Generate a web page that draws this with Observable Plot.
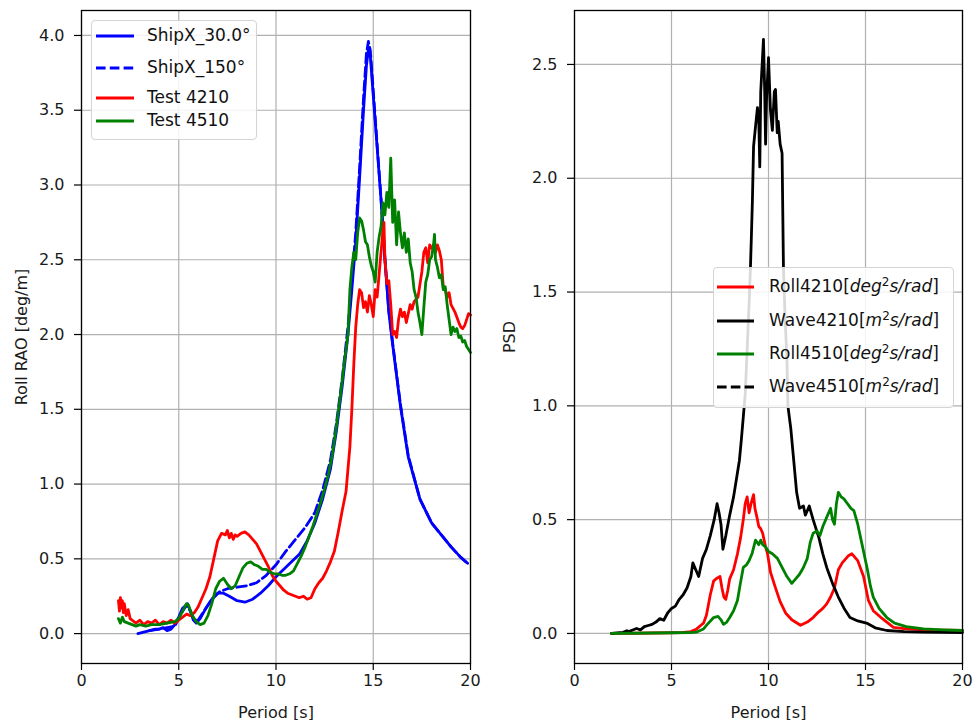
<!DOCTYPE html>
<html>
<head>
<meta charset="utf-8">
<script src="https://cdn.jsdelivr.net/npm/d3@7"></script>
<script src="https://cdn.jsdelivr.net/npm/@observablehq/plot@0.6"></script>
<style>
  html, body { margin: 0; padding: 0; background: #fff; }
  #wrap { position: relative; width: 975px; height: 720px; font-family: "DejaVu Sans", sans-serif; color: #111; }
  #left, #right { position: absolute; top: 0; }
  #left { left: 0; }
  #right { left: 490px; }
  .legend { position: absolute; background: rgba(255,255,255,0.85); border: 1px solid #d4d4d4; border-radius: 4px; font-size: 17px; }
  .row { position: absolute; white-space: nowrap; line-height: 1; }
  .row svg { position: absolute; top: 0; }
  .row span { position: absolute; top: -9px; }
  sup { font-size: 12px; font-style: normal; vertical-align: 0; position: relative; top: -6px; }
</style>
</head>
<body>
<div id="wrap">
  <div id="left"></div>
  <div id="right"></div>
</div>
<script>
// ---------- data ----------
const periodTicks = [0, 5, 10, 15, 20];
const raoTicks = [0, 0.5, 1, 1.5, 2, 2.5, 3, 3.5, 4];
const psdTicks = [0, 0.5, 1, 1.5, 2, 2.5];

// Left panel: Roll RAO [deg/m] vs Period [s]
const shipx30 = [[2.9,0.0],[3.2,0.01],[3.5,0.02],[3.8,0.03],[4.0,0.03],[4.2,0.04],[4.4,0.02],[4.6,0.03],[4.8,0.06],[5.0,0.11],[5.2,0.17],[5.45,0.2],[5.6,0.15],[5.75,0.09],[5.9,0.07],[6.1,0.1],[6.4,0.17],[6.7,0.23],[7.0,0.27],[7.3,0.27],[7.6,0.25],[8.0,0.22],[8.4,0.21],[8.8,0.23],[9.2,0.27],[9.6,0.32],[10.0,0.38],[10.4,0.43],[10.8,0.48],[11.2,0.53],[11.6,0.62],[12.0,0.74],[12.4,0.9],[12.8,1.1],[13.1,1.35],[13.4,1.65],[13.7,2.0],[13.9,2.3],[14.1,2.62],[14.3,3.05],[14.5,3.5],[14.65,3.8],[14.75,3.9],[14.85,3.86],[15.0,3.6],[15.2,3.25],[15.4,2.9],[15.6,2.5],[15.8,2.15],[16.0,1.93],[16.4,1.52],[16.8,1.18],[17.4,0.9],[18.0,0.74],[18.5,0.66],[19.0,0.58],[19.5,0.51],[19.85,0.47]];
const shipx150 = [[3.5,0.02],[4.0,0.03],[4.4,0.04],[4.8,0.05],[5.1,0.13],[5.4,0.19],[5.6,0.15],[5.8,0.09],[6.0,0.09],[6.3,0.15],[6.7,0.23],[7.1,0.28],[7.5,0.3],[8.0,0.31],[8.5,0.32],[9.0,0.34],[9.5,0.39],[10.0,0.46],[10.5,0.55],[11.0,0.63],[11.5,0.71],[12.0,0.81],[12.4,0.96],[12.8,1.16],[13.1,1.4],[13.4,1.7],[13.7,2.05],[13.9,2.36],[14.1,2.68],[14.3,3.12],[14.5,3.58],[14.65,3.88],[14.75,3.96],[14.85,3.9],[15.0,3.63],[15.2,3.27],[15.4,2.91],[15.6,2.51],[15.8,2.16],[16.0,1.94],[16.4,1.53],[16.8,1.19],[17.4,0.9],[18.0,0.74],[18.5,0.66],[19.0,0.58],[19.5,0.51],[19.85,0.47]];
const test4210 = [[1.9,0.22],[1.95,0.15],[2.0,0.24],[2.05,0.17],[2.1,0.22],[2.15,0.14],[2.2,0.2],[2.3,0.12],[2.4,0.16],[2.5,0.1],[2.6,0.09],[2.8,0.07],[3.0,0.09],[3.2,0.06],[3.4,0.08],[3.6,0.07],[3.8,0.09],[4.0,0.06],[4.2,0.08],[4.4,0.07],[4.6,0.09],[4.8,0.07],[5.0,0.09],[5.2,0.11],[5.4,0.13],[5.6,0.12],[5.8,0.14],[6.0,0.18],[6.2,0.24],[6.4,0.3],[6.6,0.38],[6.8,0.5],[7.0,0.62],[7.2,0.67],[7.4,0.66],[7.5,0.69],[7.6,0.64],[7.7,0.67],[7.8,0.63],[7.9,0.66],[8.0,0.65],[8.2,0.67],[8.4,0.68],[8.6,0.66],[8.8,0.63],[9.0,0.6],[9.2,0.55],[9.4,0.5],[9.6,0.45],[9.8,0.39],[10.0,0.35],[10.2,0.32],[10.4,0.29],[10.6,0.27],[10.8,0.26],[11.0,0.25],[11.2,0.24],[11.4,0.25],[11.6,0.23],[11.8,0.24],[12.0,0.3],[12.2,0.34],[12.4,0.37],[12.6,0.42],[12.8,0.48],[13.0,0.55],[13.2,0.68],[13.4,0.82],[13.6,0.95],[13.8,1.25],[13.9,1.5],[14.0,1.8],[14.1,2.05],[14.2,2.2],[14.3,2.3],[14.4,2.28],[14.5,2.18],[14.6,2.22],[14.7,2.15],[14.8,2.26],[14.9,2.2],[15.0,2.12],[15.1,2.3],[15.2,2.25],[15.3,2.4],[15.4,2.55],[15.5,2.7],[15.55,2.75],[15.6,2.5],[15.7,2.34],[15.8,2.36],[15.9,2.2],[16.0,2.0],[16.1,2.02],[16.2,1.98],[16.3,2.1],[16.4,2.17],[16.5,2.12],[16.6,2.15],[16.7,2.08],[16.8,2.14],[16.9,2.2],[17.0,2.17],[17.1,2.22],[17.3,2.25],[17.5,2.42],[17.6,2.55],[17.7,2.58],[17.8,2.48],[17.9,2.6],[18.0,2.58],[18.2,2.55],[18.3,2.6],[18.4,2.56],[18.5,2.5],[18.6,2.32],[18.7,2.3],[18.8,2.25],[18.9,2.28],[19.0,2.2],[19.2,2.15],[19.4,2.08],[19.5,2.05],[19.6,2.04],[19.7,2.06],[19.8,2.1],[19.9,2.14],[20.0,2.13]];
const test4510 = [[1.9,0.1],[2.0,0.07],[2.1,0.11],[2.2,0.08],[2.4,0.07],[2.6,0.06],[2.8,0.05],[3.0,0.06],[3.3,0.05],[3.6,0.06],[4.0,0.06],[4.4,0.07],[4.8,0.08],[5.0,0.1],[5.2,0.15],[5.4,0.2],[5.5,0.19],[5.7,0.12],[5.9,0.08],[6.1,0.06],[6.3,0.07],[6.5,0.12],[6.7,0.2],[6.9,0.3],[7.1,0.35],[7.3,0.37],[7.5,0.33],[7.7,0.3],[7.9,0.32],[8.1,0.38],[8.3,0.44],[8.5,0.47],[8.7,0.48],[8.9,0.46],[9.1,0.45],[9.3,0.43],[9.5,0.43],[9.7,0.41],[9.9,0.4],[10.1,0.4],[10.3,0.39],[10.5,0.39],[10.7,0.4],[10.9,0.42],[11.1,0.47],[11.3,0.52],[11.5,0.58],[11.7,0.65],[11.9,0.72],[12.1,0.8],[12.3,0.88],[12.5,0.97],[12.7,1.07],[12.9,1.2],[13.1,1.38],[13.3,1.58],[13.5,1.8],[13.7,2.0],[13.8,2.3],[13.9,2.45],[14.0,2.55],[14.1,2.5],[14.2,2.68],[14.3,2.78],[14.4,2.76],[14.5,2.7],[14.6,2.62],[14.7,2.6],[14.8,2.52],[14.9,2.46],[15.0,2.42],[15.1,2.35],[15.2,2.55],[15.3,2.65],[15.4,2.72],[15.5,2.88],[15.6,2.8],[15.7,2.95],[15.8,2.85],[15.9,3.18],[16.0,2.75],[16.1,2.9],[16.2,2.6],[16.3,2.82],[16.4,2.68],[16.5,2.58],[16.6,2.68],[16.7,2.55],[16.8,2.64],[16.9,2.48],[17.0,2.42],[17.1,2.3],[17.2,2.25],[17.3,2.15],[17.4,2.08],[17.5,2.0],[17.6,2.18],[17.7,2.35],[17.8,2.4],[17.9,2.5],[18.0,2.52],[18.1,2.6],[18.15,2.67],[18.2,2.5],[18.3,2.45],[18.4,2.38],[18.5,2.4],[18.6,2.3],[18.7,2.32],[18.8,2.2],[18.9,2.1],[19.0,2.0],[19.1,2.05],[19.2,2.02],[19.3,2.04],[19.4,1.98],[19.5,1.99],[19.6,1.95],[19.7,1.96],[19.8,1.92],[19.9,1.9],[20.0,1.88]];

// Right panel: PSD vs Period [s]
const roll4210 = [[1.9,0],[3,0.001],[4,0.002],[5,0.003],[5.5,0.004],[6.0,0.008],[6.3,0.02],[6.5,0.035],[6.65,0.045],[6.8,0.08],[7.0,0.17],[7.17,0.23],[7.3,0.24],[7.5,0.25],[7.6,0.2],[7.7,0.16],[7.8,0.15],[7.9,0.19],[8.0,0.24],[8.2,0.28],[8.4,0.35],[8.56,0.42],[8.7,0.5],[8.8,0.57],[8.9,0.6],[9.0,0.53],[9.1,0.57],[9.23,0.61],[9.3,0.55],[9.43,0.5],[9.5,0.47],[9.6,0.46],[9.7,0.44],[9.85,0.38],[9.95,0.35],[10.1,0.27],[10.36,0.2],[10.6,0.14],[10.88,0.09],[11.2,0.06],[11.65,0.036],[12.0,0.05],[12.3,0.07],[12.5,0.088],[12.8,0.11],[13.0,0.13],[13.2,0.16],[13.4,0.2],[13.6,0.28],[13.8,0.31],[14.1,0.34],[14.3,0.35],[14.6,0.32],[14.9,0.25],[15.15,0.145],[15.4,0.1],[15.8,0.07],[16.1,0.05],[16.44,0.027],[17.1,0.02],[18,0.016],[19,0.014],[20,0.013]];
const wave4210 = [[1.9,0.0],[2.2,0.003],[2.5,0.005],[2.7,0.012],[2.8,0.008],[3.0,0.015],[3.2,0.022],[3.4,0.016],[3.6,0.03],[3.8,0.035],[4.0,0.04],[4.2,0.05],[4.4,0.065],[4.6,0.058],[4.8,0.09],[5.0,0.11],[5.2,0.12],[5.4,0.15],[5.6,0.17],[5.8,0.2],[6.0,0.25],[6.1,0.31],[6.25,0.28],[6.4,0.25],[6.6,0.33],[6.8,0.37],[7.0,0.43],[7.2,0.5],[7.35,0.57],[7.45,0.53],[7.55,0.48],[7.65,0.37],[7.8,0.43],[8.0,0.52],[8.2,0.6],[8.35,0.68],[8.5,0.76],[8.6,0.85],[8.7,0.95],[8.8,1.05],[8.9,1.25],[9.0,1.45],[9.07,1.61],[9.12,1.75],[9.17,1.9],[9.23,2.14],[9.3,2.2],[9.43,2.31],[9.5,2.25],[9.55,2.05],[9.6,2.38],[9.74,2.61],[9.8,2.4],[9.85,2.15],[9.9,2.35],[10.0,2.53],[10.1,2.3],[10.2,2.21],[10.3,2.38],[10.36,2.39],[10.45,2.2],[10.5,2.25],[10.6,2.15],[10.7,2.11],[10.77,1.61],[10.85,1.4],[10.95,1.2],[11.0,1.0],[11.15,0.9],[11.3,0.76],[11.45,0.62],[11.6,0.55],[11.8,0.56],[11.9,0.52],[12.1,0.56],[12.3,0.5],[12.6,0.42],[12.8,0.35],[13.0,0.29],[13.3,0.22],[13.6,0.16],[13.9,0.11],[14.2,0.07],[14.6,0.055],[15.1,0.044],[15.5,0.025],[16.1,0.013],[17,0.008],[18,0.006],[19,0.005],[20,0.004]];
const roll4510 = [[1.9,0],[3,0.001],[4,0.002],[5,0.003],[6.0,0.004],[6.3,0.006],[6.65,0.02],[6.9,0.045],[7.17,0.07],[7.4,0.075],[7.55,0.06],[7.68,0.04],[7.85,0.05],[8.0,0.07],[8.2,0.1],[8.4,0.145],[8.55,0.22],[8.7,0.29],[8.85,0.3],[9.0,0.32],[9.15,0.35],[9.33,0.41],[9.5,0.39],[9.6,0.41],[9.7,0.39],[9.85,0.38],[10.0,0.36],[10.2,0.35],[10.46,0.33],[10.7,0.29],[10.95,0.25],[11.2,0.22],[11.4,0.24],[11.6,0.26],[11.8,0.29],[12.0,0.33],[12.15,0.4],[12.3,0.44],[12.5,0.45],[12.65,0.43],[12.8,0.47],[13.0,0.51],[13.2,0.55],[13.3,0.5],[13.4,0.48],[13.5,0.57],[13.6,0.62],[13.75,0.6],[13.9,0.59],[14.07,0.57],[14.25,0.55],[14.4,0.54],[14.6,0.48],[14.75,0.42],[14.9,0.36],[15.1,0.28],[15.25,0.21],[15.4,0.16],[15.7,0.11],[16.1,0.07],[16.5,0.045],[17.1,0.03],[18,0.02],[19,0.016],[20,0.013]];

// ---------- helpers ----------
const LW = 2.8;
const gx = d => d[0], gy = d => d[1];
const style = { fontFamily: "DejaVu Sans, sans-serif", fontSize: "16px", color: "#1a1a1a", background: "transparent", overflow: "visible" };

function axes(yTicks, yLabel, yLabelOffset) {
  return [
    Plot.gridX(periodTicks, { stroke: "#b0b0b0", strokeOpacity: 1, strokeWidth: 1.2 }),
    Plot.gridY(yTicks, { stroke: "#b0b0b0", strokeOpacity: 1, strokeWidth: 1.2 }),
    Plot.axisX(periodTicks, { tickSize: 7, tickPadding: 4, tickFormat: d3.format("d"), label: "Period [s]", labelAnchor: "center", labelArrow: "none", labelOffset: 54, stroke: "#000", strokeWidth: 1.2 }),
    Plot.axisY(yTicks, { tickSize: 7, tickPadding: 10, tickFormat: d3.format(".1f"), label: yLabel, labelAnchor: "center", labelArrow: "none", labelOffset: yLabelOffset, stroke: "#000", strokeWidth: 1.2 })
  ];
}

// ---------- left panel ----------
const left = Plot.plot({
  width: 480, height: 720,
  marginLeft: 81, marginRight: 10, marginTop: 10, marginBottom: 57,
  style,
  x: { domain: [0, 20] },
  y: { domain: [-0.2, 4.167] },
  marks: [
    ...axes(raoTicks, "Roll RAO [deg/m]", 66),
    Plot.line(shipx30, { x: gx, y: gy, stroke: "#0000ff", strokeWidth: LW }),
    Plot.line(shipx150, { x: gx, y: gy, stroke: "#0000ff", strokeWidth: LW, strokeDasharray: "9.6,4.2" }),
    Plot.line(test4210, { x: gx, y: gy, stroke: "#ff0000", strokeWidth: LW }),
    Plot.line(test4510, { x: gx, y: gy, stroke: "#008000", strokeWidth: LW }),
    Plot.frame({ stroke: "#000", strokeWidth: 1.3 })
  ]
});
document.getElementById("left").append(left);

// ---------- right panel ----------
const right = Plot.plot({
  width: 485, height: 720,
  marginLeft: 84, marginRight: 13, marginTop: 10, marginBottom: 57,
  style,
  x: { domain: [0, 20] },
  y: { domain: [-0.132, 2.737] },
  marks: [
    ...axes(psdTicks, "PSD", 71),
    Plot.line(roll4210, { x: gx, y: gy, stroke: "#ff0000", strokeWidth: LW }),
    Plot.line(wave4210, { x: gx, y: gy, stroke: "#000000", strokeWidth: LW }),
    Plot.line(roll4510, { x: gx, y: gy, stroke: "#008000", strokeWidth: LW }),
    Plot.frame({ stroke: "#000", strokeWidth: 1.3 })
  ]
});
document.getElementById("right").append(right);

// ---------- legends ----------
function legend(box, rows) {
  const div = document.createElement("div");
  div.className = "legend";
  Object.assign(div.style, { left: box.x + "px", top: box.y + "px", width: box.w + "px", height: box.h + "px" });
  rows.forEach(r => {
    const row = document.createElement("div");
    row.className = "row";
    row.style.left = "0px";
    row.style.top = (r.y - box.y) + "px";
    row.innerHTML =
      `<svg width="${box.sw + 10}" height="4" style="left:${box.sx}px;top:-2px;overflow:visible">` +
      `<line x1="0" x2="${box.sw}" y1="2" y2="2" stroke="${r.color}" stroke-width="${LW}" ${r.dash ? `stroke-dasharray="${r.dash}"` : ""}/></svg>` +
      `<span style="left:${box.tx}px">${r.html}</span>`;
    div.append(row);
  });
  document.getElementById("wrap").append(div);
}

legend({ x: 91, y: 20, w: 164, h: 118, sx: 4, sw: 38, tx: 55 }, [
  { y: 35, color: "#0000ff", html: "ShipX_30.0°" },
  { y: 67, color: "#0000ff", dash: "9.6,4.2", html: "ShipX_150°" },
  { y: 97, color: "#ff0000", html: "Test 4210" },
  { y: 120, color: "#008000", html: "Test 4510" }
]);

legend({ x: 713, y: 267, w: 239, h: 139, sx: 3, sw: 37, tx: 55 }, [
  { y: 286, color: "#ff0000", html: "Roll4210[<i>deg</i><sup>2</sup><i>s/rad</i>]" },
  { y: 320, color: "#000000", html: "Wave4210[<i>m</i><sup>2</sup><i>s/rad</i>]" },
  { y: 353, color: "#008000", html: "Roll4510[<i>deg</i><sup>2</sup><i>s/rad</i>]" },
  { y: 386, color: "#000000", dash: "9.6,4.2", html: "Wave4510[<i>m</i><sup>2</sup><i>s/rad</i>]" }
]);
</script>
</body>
</html>
